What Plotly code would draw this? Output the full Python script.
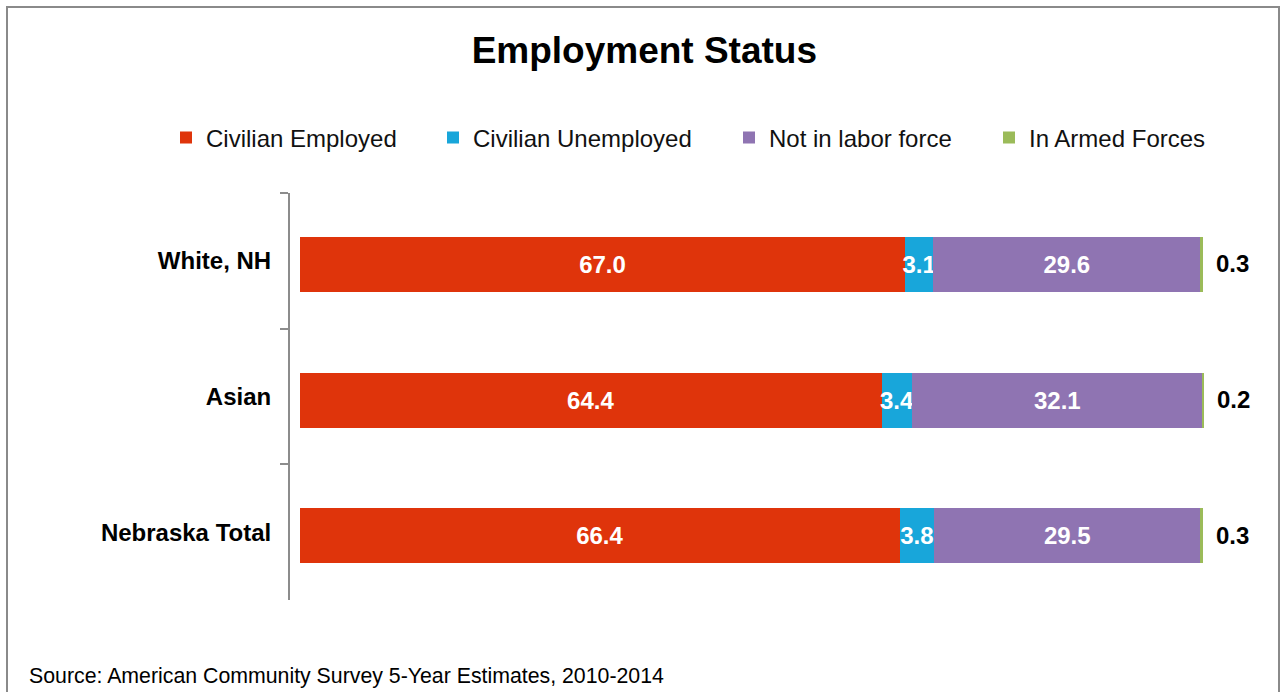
import plotly.graph_objects as go

# data
groups = ["White, NH", "Asian", "Nebraska Total"]
employed = [67.0, 64.4, 66.4]
unemployed = [3.1, 3.4, 3.8]
not_in_labor = [29.6, 32.1, 29.5]
armed_forces = [0.3, 0.2, 0.3]

series_names = ["Civilian Employed", "Civilian Unemployed", "Not in labor force", "In Armed Forces"]
series_colors = ["#DF340B", "#18A6DA", "#8F74B2", "#9BBB59"]

W, H = 1281, 692
L, R, T, B = 290, 76, 193, 92
FONT = "Liberation Sans, Arial, sans-serif"


def px_x(p):
    # pixel -> paper x
    return (p - L) / (W - L - R)


def px_y(p):
    # pixel -> paper y
    return (H - B - p) / (H - T - B)


fig = go.Figure()

all_values = [employed, unemployed, not_in_labor, armed_forces]
for i, (name, vals, col) in enumerate(zip(series_names, all_values, series_colors)):
    leg = "legend" if i == 0 else f"legend{i + 1}"
    fig.add_trace(go.Bar(
        y=groups, x=vals, name=name, orientation="h",
        width=0.405, offset=-0.176,
        marker=dict(color=col, line=dict(width=0)),
        text=[f"{v:.1f}" for v in vals] if i < 3 else None,
        textposition="inside" if i < 3 else "none",
        insidetextanchor="middle", textangle=0,
        constraintext="none",
        textfont=dict(color="white", size=24, family=FONT, weight="bold"),
        legend=leg,
    ))

# armed forces values sit just past the end of each bar
totals = [a + b + c + d for a, b, c, d in zip(employed, unemployed, not_in_labor, armed_forces)]
for g, tot, v in zip(groups, totals, armed_forces):
    fig.add_annotation(x=tot, y=g, text=f"<b>{v:.1f}</b>", showarrow=False,
                       xanchor="left", yanchor="middle", xshift=11, yshift=-3,
                       font=dict(size=24, family=FONT, color="black"))

# one legend per entry so the spacing follows the original
legend_centers = [186, 453, 749, 1009]
legend_layout = {}
for i, cx in enumerate(legend_centers):
    key = "legend" if i == 0 else f"legend{i + 1}"
    legend_layout[key] = dict(
        x=px_x(cx - 20), xanchor="left",
        y=px_y(138), yanchor="middle",
        orientation="h", bgcolor="rgba(0,0,0,0)",
        font=dict(size=24, family=FONT, color="#111"),
        itemwidth=30,
    )

fig.update_layout(
    width=W, height=H,
    margin=dict(l=L, r=R, t=T, b=B, pad=0),
    paper_bgcolor="white", plot_bgcolor="white",
    barmode="stack",
    showlegend=True,
    title=dict(text="<b>Employment Status</b>", x=0.503, xanchor="center",
               y=1 - 50 / H, yanchor="middle",
               font=dict(size=37, family=FONT, color="black")),
    font=dict(family=FONT),
    xaxis=dict(range=[-1.1, 100.2], visible=False, fixedrange=True),
    yaxis=dict(
        categoryorder="array", categoryarray=groups, autorange="reversed",
        showline=True, linecolor="#8C8C8C", linewidth=2,
        ticks="outside", tickson="boundaries", ticklen=8,
        tickcolor="#8C8C8C", tickwidth=2,
        ticklabelstandoff=12,
        tickfont=dict(size=24, family=FONT, color="black", weight="bold"),
        showgrid=False, zeroline=False,
    ),
    **legend_layout,
)

# outer frame
fig.add_shape(type="rect", xref="paper", yref="paper",
              x0=px_x(7), x1=px_x(1279), y0=px_y(730), y1=px_y(7),
              line=dict(color="#8A8A8A", width=2), fillcolor="rgba(0,0,0,0)",
              layer="below")

fig.add_annotation(text="Source: American Community Survey 5-Year Estimates, 2010-2014",
                   xref="paper", yref="paper", x=px_x(27), y=px_y(676),
                   xanchor="left", yanchor="middle", showarrow=False,
                   font=dict(size=21.3, family=FONT, color="black"))

fig.write_html("out.html", config={"displayModeBar": False},
               post_script="document.body.style.margin='0';")
